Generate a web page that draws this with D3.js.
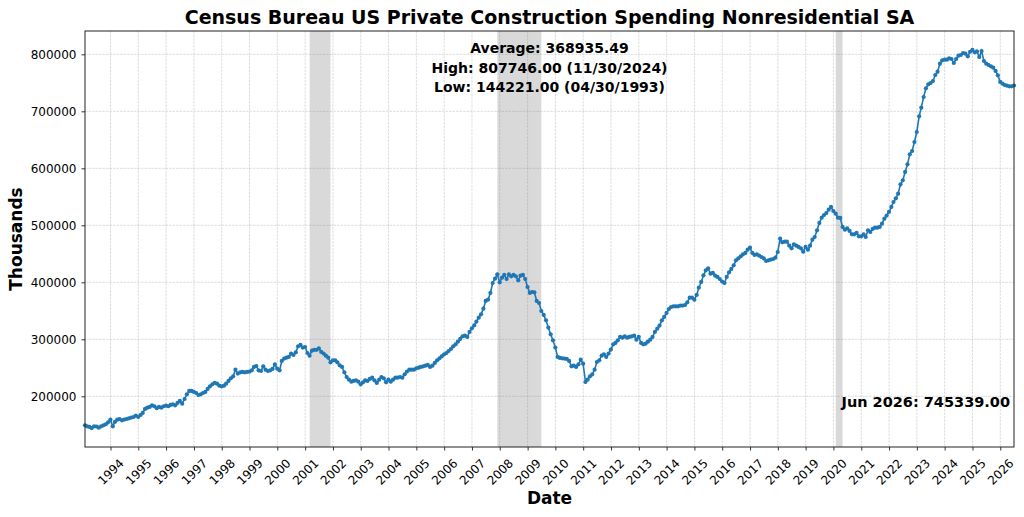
<!DOCTYPE html>
<html>
<head>
<meta charset="utf-8">
<script src="https://cdn.jsdelivr.net/npm/d3@7"></script>
<style>
  body { margin: 0; background: #fff; }
  svg { font-family: "DejaVu Sans", sans-serif; }
</style>
</head>
<body>
<div id="chart"></div>
<script>
// monthly values (thousands), month-end dates starting Jan 1993
const startYear = 1993;
const values1990s = [
  149100,147400,146200,144221,147400,147000,145000,147400,149100,150900,154400,159100,
  147400,155000,159000,160200,157900,159100,160200,161400,162600,163700,166100,163700,
  167200,170800,177800,180100,181300,184200,182500,179000,181300,180100,182500,183600,
  182500,184800,186000,184200,188300,191800,187100,195300,203500,209400,209400,207600,
  205800,202300,203500,205800,207600,212900,217500,221100,223400,222200,218700,217500,
  218700,222200,226900,231600,235100,246800,239800,242100,242700,242100,242700,243300,
  245600,251500,253200,245600,244400,252600,246800,244400,245600,248000,256100,248500
];
const values2000s = [
  245600,262000,266100,267800,269000,274900,272500,277200,287700,290100,285400,286500,
  276000,271300,280000,281500,281500,284000,277800,274900,271300,267800,259600,263100,
  263100,259600,254400,251500,242100,233900,229200,225700,226900,228100,225700,221000,
  224500,228100,226900,230400,232700,228100,223400,229200,233900,231600,224500,229200,
  225700,229200,232700,232700,233900,232700,238600,243300,246800,246800,246800,249100,
  250300,251500,252600,253800,255000,251500,253800,258500,263100,266600,270200,273700,
  276000,279500,283000,287700,291200,295900,300600,305300,306400,304100,312900,319300,
  324600,331000,338000,343900,353800,367300,369600,381300,398800,406400,414000,400000,
  408200,412900,405800,414000,410500,412900,410500,403500,411700,412900,405800,391800,
  381300,383000,382500,367300,363700,349700,342700,333300,320500,308800,298200,285400
];
const values2010s = [
  269000,267300,266700,266100,265500,262000,252600,253800,251500,256100,264300,257300,
  225100,229200,235100,238600,246800,260200,263100,271300,273700,269000,274900,281900,
  291200,293600,298200,304100,302900,305300,302900,304100,305300,306400,299400,304100,
  293600,291200,292400,295900,299400,304100,312900,318700,324000,333300,339200,346200,
  353200,356700,357900,357900,357900,359100,359100,360200,364900,373100,373100,369600,
  377800,390600,400600,412300,421000,424600,415200,416400,411700,409400,405800,401200,
  398800,409400,417500,423400,429800,438600,442100,445600,449100,451500,457300,460800,
  451500,448000,449100,446800,444400,442100,437400,438600,439800,440900,443300,453200,
  476600,470200,471300,471300,464300,459600,466700,464300,462000,459600,453800,462000,
  457300,464300,474800,479500,491200,504100,513400,518100,521600,527500,532200,525100
];
const values2020s = [
  520500,513400,512900,497100,492400,494700,490100,484200,484200,486600,480700,480700,
  484200,479500,491200,488300,493600,495900,495900,497100,502900,511700,517000,523400,
  532200,540900,547400,555500,571900,578900,593600,607000,624600,630400,646200,663700,
  691200,706400,725100,740300,747400,749700,753200,763700,769600,783600,789500,790600,
  790600,793000,791800,784800,791800,797700,798800,802300,801200,796500,804500,807746,
  803500,805000,795300,805800,788300,783600,781300,779000,776600,770800,763100,751500,
  748500,746200,745000,743900,743900,745339
];

// NBER recessions
const recessionStarts = ["2001-03-01", "2007-12-01", "2020-02-01"];
const recessionEnds   = ["2001-11-30", "2009-06-30", "2020-04-30"];

const yTicks = [200000, 300000, 400000, 500000, 600000, 700000, 800000];
const statLines = [
  "Average: 368935.49",
  "High: 807746.00 (11/30/2024)",
  "Low: 144221.00 (04/30/1993)"
];
const lastLabel = "Jun 2026: 745339.00";
const title = "Census Bureau US Private Construction Spending Nonresidential SA";

const allValues = values1990s.concat(values2000s, values2010s, values2020s);
const data = allValues.map((v, i) => ({
  date: new Date(startYear, i + 1, 0),
  value: v
}));

const margin = {top: 31, right: 10, bottom: 70, left: 85},
  width = 1024 - margin.left - margin.right,
  height = 517 - margin.top - margin.bottom;

const svgRoot = d3.select("#chart")
  .append("svg")
    .attr("width", width + margin.left + margin.right)
    .attr("height", height + margin.top + margin.bottom);

const svg = svgRoot.append("g")
    .attr("transform", "translate(" + margin.left + "," + margin.top + ")");

const x = d3.scaleTime()
  .domain(d3.extent(data, d => d.date))
  .range([0, width]);

const yMin = d3.min(data, d => d.value), yMax = d3.max(data, d => d.value);
const pad = (yMax - yMin) * 0.05;
const y = d3.scaleLinear()
  .domain([yMin - pad, yMax + pad])
  .range([height, 0]);

const yearTicks = x.ticks(d3.timeYear.every(1));

// grid
svg.append("g").selectAll("line")
  .data(yearTicks).enter().append("line")
    .attr("x1", d => x(d)).attr("x2", d => x(d))
    .attr("y1", 0).attr("y2", height)
    .attr("stroke", "#b0b0b0").attr("stroke-opacity", 0.55)
    .attr("stroke-width", 0.8).attr("stroke-dasharray", "2.5,1");
svg.append("g").selectAll("line")
  .data(yTicks).enter().append("line")
    .attr("x1", 0).attr("x2", width)
    .attr("y1", d => y(d)).attr("y2", d => y(d))
    .attr("stroke", "#b0b0b0").attr("stroke-opacity", 0.55)
    .attr("stroke-width", 0.8).attr("stroke-dasharray", "2.5,1");

// recession shading
const parse = d3.timeParse("%Y-%m-%d");
svg.append("g").selectAll("rect")
  .data(recessionStarts.map((s, i) => [parse(s), parse(recessionEnds[i])]))
  .enter().append("rect")
    .attr("x", d => x(d[0]))
    .attr("width", d => x(d[1]) - x(d[0]))
    .attr("y", 0).attr("height", height)
    .attr("fill", "gray").attr("fill-opacity", 0.3);

// line + markers
svg.append("path")
  .datum(data)
  .attr("fill", "none")
  .attr("stroke", "#1f77b4")
  .attr("stroke-width", 1.6)
  .attr("d", d3.line().x(d => x(d.date)).y(d => y(d.value)));

svg.append("g").selectAll("circle")
  .data(data).enter().append("circle")
    .attr("cx", d => x(d.date))
    .attr("cy", d => y(d.value))
    .attr("r", 2.1)
    .attr("fill", "#1f77b4");

// axes
const xAxis = svg.append("g")
  .attr("transform", "translate(0," + height + ")")
  .call(d3.axisBottom(x).tickValues(yearTicks).tickSize(3.5).tickFormat(d3.timeFormat("%Y")));
xAxis.selectAll("text")
  .attr("text-anchor", "middle")
  .attr("dy", null)
  .attr("dominant-baseline", "central")
  .attr("y", 0)
  .attr("transform", "translate(0,25) rotate(-45)");

const yAxis = svg.append("g")
  .call(d3.axisLeft(y).tickValues(yTicks).tickSize(3.5).tickPadding(5).tickFormat(d3.format("d")));

[xAxis, yAxis].forEach(a => {
  a.attr("font-family", "DejaVu Sans").attr("font-size", 12);
  a.selectAll("text").attr("fill", "#000");
  a.select(".domain").remove();
  a.selectAll(".tick line").attr("stroke", "#000").attr("stroke-width", 0.8);
});

// frame
svg.append("rect")
  .attr("width", width).attr("height", height)
  .attr("fill", "none").attr("stroke", "#222").attr("stroke-width", 1);

// stats text
svg.append("g").selectAll("text")
  .data(statLines).enter().append("text")
    .attr("x", width / 2)
    .attr("y", (d, i) => 22 + i * 19.5)
    .attr("text-anchor", "middle")
    .attr("font-size", 14)
    .attr("font-weight", "bold")
    .text(d => d);

svg.append("text")
  .attr("x", width - 4)
  .attr("y", 376)
  .attr("text-anchor", "end")
  .attr("font-size", 14.5)
  .attr("font-weight", "bold")
  .text(lastLabel);

// titles
svgRoot.append("text")
  .attr("x", margin.left + width / 2)
  .attr("y", 24)
  .attr("text-anchor", "middle")
  .attr("font-size", 19)
  .attr("font-weight", "bold")
  .text(title);

svgRoot.append("text")
  .attr("x", margin.left + width / 2)
  .attr("y", 504)
  .attr("text-anchor", "middle")
  .attr("font-size", 17)
  .attr("font-weight", "bold")
  .text("Date");

svgRoot.append("text")
  .attr("transform", "translate(22," + (margin.top + height / 2) + ") rotate(-90)")
  .attr("text-anchor", "middle")
  .attr("font-size", 17)
  .attr("font-weight", "bold")
  .text("Thousands");
</script>
</body>
</html>
